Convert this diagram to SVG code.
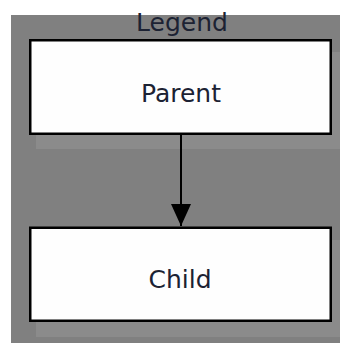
<svg xmlns="http://www.w3.org/2000/svg" width="340" height="343" viewBox="0 0 340 343">
  <defs>
    <style>
      .bg { fill: #808080; }
      .shadow { fill: #8b8b8b; }
      .box { fill: #fefefe; stroke: #000; stroke-width: 2.5; }
      .label { font-family: "DejaVu Sans", Verdana, sans-serif; font-size: 25px; fill: #1c2233; text-anchor: middle; }
      .edge { stroke: #000; stroke-width: 2; fill: none; }
    </style>
    <marker id="arrow" markerUnits="userSpaceOnUse" markerWidth="24" markerHeight="20" refX="22" refY="10" orient="auto">
      <path d="M0,0 L22,10 L0,20 Z" fill="#000"/>
    </marker>
  </defs>
  <rect x="0" y="0" width="340" height="343" fill="#ffffff"/>
  <g id="legend">
    <rect class="bg" x="11" y="15" width="329" height="328"/>
    <text class="label" x="182" y="31">Legend</text>
  </g>
  <g id="parent">
    <rect class="shadow" x="36" y="52" width="310" height="97"/>
    <rect class="box" x="30.25" y="40.25" width="300.5" height="93.5"/>
    <text class="label" x="181" y="102">Parent</text>
  </g>
  <g id="child">
    <rect class="shadow" x="36" y="240" width="310" height="97"/>
    <rect class="box" x="30.25" y="227.75" width="300.5" height="93"/>
    <text class="label" x="180" y="288">Child</text>
  </g>
  <g id="connectors">
    <line class="edge" x1="181" y1="135" x2="181" y2="226" marker-end="url(#arrow)"/>
  </g>
</svg>
